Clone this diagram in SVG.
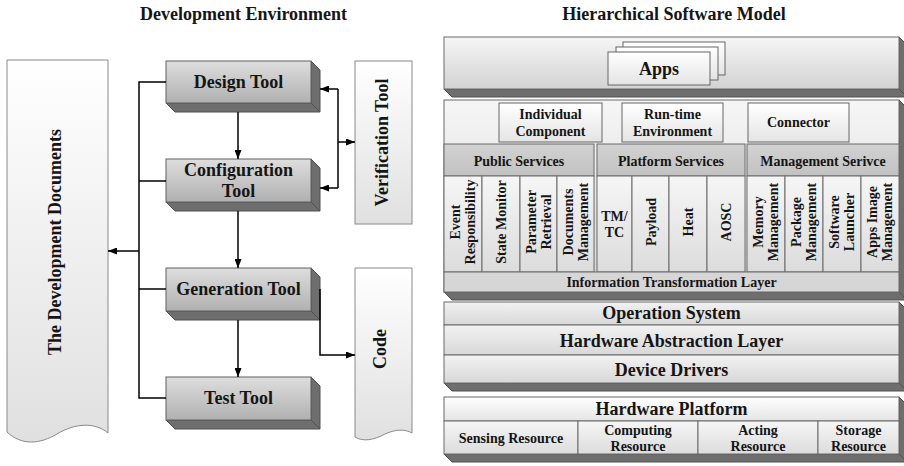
<svg xmlns="http://www.w3.org/2000/svg" width="904" height="466" viewBox="0 0 904 466">
<defs>
<linearGradient id="gTool" x1="0" y1="0" x2="0" y2="1"><stop offset="0" stop-color="#dedede"/><stop offset="1" stop-color="#b0b0b0"/></linearGradient>
<linearGradient id="gDoc" x1="0" y1="0" x2="0" y2="1"><stop offset="0" stop-color="#ffffff"/><stop offset="1" stop-color="#e0e0e0"/></linearGradient>
<linearGradient id="gLayer" x1="0" y1="0" x2="0" y2="1"><stop offset="0" stop-color="#f6f6f6"/><stop offset="1" stop-color="#d2d2d2"/></linearGradient>
<linearGradient id="gRow" x1="0" y1="0" x2="0" y2="1"><stop offset="0" stop-color="#f2f2f2"/><stop offset="1" stop-color="#d8d8d8"/></linearGradient>
<linearGradient id="gCard" x1="0" y1="0" x2="0" y2="1"><stop offset="0" stop-color="#ffffff"/><stop offset="1" stop-color="#e4e4e4"/></linearGradient>
<linearGradient id="gHead" x1="0" y1="0" x2="0" y2="1"><stop offset="0" stop-color="#d2d2d2"/><stop offset="1" stop-color="#c2c2c2"/></linearGradient>
<linearGradient id="gCell" x1="0" y1="0" x2="0" y2="1"><stop offset="0" stop-color="#f6f6f6"/><stop offset="1" stop-color="#dcdcdc"/></linearGradient>
<marker id="arr" viewBox="0 0 9 7" refX="9" refY="3.5" markerWidth="9" markerHeight="7" markerUnits="userSpaceOnUse" orient="auto"><path d="M0,0 L9,3.5 L0,7 z" fill="#000"/></marker>
</defs>
<style>
text{font-family:"Liberation Serif","Times New Roman",serif;font-weight:bold;fill:#151515}
.t18{font-size:18px}
.t14{font-size:14px}
.c{text-anchor:middle}
.face{fill:#6e6e6e;stroke:#505050;stroke-width:1}
.tool{fill:url(#gTool);stroke:#606060;stroke-width:1}
.doc{fill:url(#gDoc);stroke:#8a8a8a;stroke-width:1}
.layer{fill:url(#gLayer);stroke:#6a6a6a;stroke-width:1}
.row{fill:url(#gRow);stroke:#6a6a6a;stroke-width:1}
.card{fill:url(#gCard);stroke:#666;stroke-width:1}
.head{fill:url(#gHead);stroke:#6a6a6a;stroke-width:1}
.cell{fill:url(#gCell);stroke:#6a6a6a;stroke-width:1}
.band{fill:#d6d6d6;stroke:#6a6a6a;stroke-width:1}
.conn{fill:none;stroke:#000;stroke-width:1.5}
.arrow{marker-end:url(#arr)}
</style>
<rect width="904" height="466" fill="#ffffff"/>

<text class="t18 c" x="243.5" y="20">Development Environment</text>
<text class="t18 c" x="674" y="20">Hierarchical Software Model</text>

<!-- Left side nodes -->
<g id="development-documents">
<path class="doc" d="M7,60 H108 V433 C95,422 75,423 57,434 C40,444 22,446 7,432 Z"/>
<text class="t18 c" transform="translate(55,242) rotate(-90)" x="0" y="6">The Development Documents</text>
</g>

<g id="design-tool">
<polygon class="face" points="311,61 320,70 320,112 311,103"/>
<polygon class="face" points="166,103 311,103 320,112 175,112"/>
<rect class="tool" x="166" y="61" width="145" height="42"/>
<text class="t18 c" x="238.5" y="88">Design Tool</text>
</g>

<g id="configuration-tool">
<polygon class="face" points="311,159 320,168 320,211 311,202"/>
<polygon class="face" points="166,202 311,202 320,211 175,211"/>
<rect class="tool" x="166" y="159" width="145" height="43"/>
<text class="t18 c" x="238.5" y="176">Configuration</text>
<text class="t18 c" x="238.5" y="197">Tool</text>
</g>

<g id="generation-tool">
<polygon class="face" points="311,268 320,277 320,320 311,311"/>
<polygon class="face" points="166,311 311,311 320,320 175,320"/>
<rect class="tool" x="166" y="268" width="145" height="43"/>
<text class="t18 c" x="238.5" y="295">Generation Tool</text>
</g>

<g id="test-tool">
<polygon class="face" points="311,377 320,386 320,429 311,420"/>
<polygon class="face" points="166,420 311,420 320,429 175,429"/>
<rect class="tool" x="166" y="377" width="145" height="43"/>
<text class="t18 c" x="238.5" y="404">Test Tool</text>
</g>

<g id="verification-tool">
<rect class="doc" x="355" y="61" width="57" height="163"/>
<text class="t18 c" transform="translate(382,142.5) rotate(-90)" x="0" y="6">Verification Tool</text>
</g>

<g id="code">
<path class="doc" d="M355,268 H412 V433 C405,429 396,429 385,434 C374,440 363,442 355,437 Z"/>
<text class="t18 c" transform="translate(380,349) rotate(-90)" x="0" y="6">Code</text>
</g>

<!-- Connectors -->
<g id="connectors">
<path class="conn" d="M166,82 H139 V398 H166"/>
<path class="conn" d="M139,181 H166"/>
<path class="conn" d="M139,289 H166"/>
<path class="conn arrow" d="M139,251 H108"/>
<path class="conn arrow" d="M238,112 V159"/>
<path class="conn arrow" d="M238,211 V268"/>
<path class="conn arrow" d="M238,320 V377"/>
<path class="conn" d="M338,89 V188"/>
<path class="conn arrow" d="M338,89 H320"/>
<path class="conn arrow" d="M338,188 H320"/>
<path class="conn arrow" d="M338,142 H355"/>
<path class="conn arrow" d="M320,289 V355 H355"/>
</g>

<!-- Right side: hierarchical software model -->
<g id="apps-layer">
<polygon class="face" points="899,37 907,45 907,97 899,89"/>
<polygon class="face" points="444,89 899,89 907,97 452,97"/>
<rect class="layer" x="444" y="37" width="455" height="52"/>
<rect class="card" x="623" y="42" width="102" height="33"/>
<rect class="card" x="616" y="47" width="102" height="33"/>
<rect class="card" x="608" y="52" width="102" height="33"/>
<text class="t18 c" x="659" y="75">Apps</text>
</g>

<g id="middleware-layer">
<polygon class="face" points="899,100 907,108 907,300 899,292"/>
<polygon class="face" points="444,292 899,292 907,300 452,300"/>
<rect class="layer" x="444" y="100" width="455" height="192"/>
<g id="individual-component">
<rect class="card" x="499" y="103" width="103" height="39"/>
<text class="t14 c" x="550.5" y="118.5">Individual</text>
<text class="t14 c" x="550.5" y="135.5">Component</text>
</g>
<g id="runtime-environment">
<rect class="card" x="622" y="103" width="101" height="39"/>
<text class="t14 c" x="672.5" y="118.5">Run-time</text>
<text class="t14 c" x="672.5" y="135.5">Environment</text>
</g>
<g id="connector">
<rect class="card" x="748" y="103" width="101" height="39"/>
<text class="t14 c" x="798.5" y="127">Connector</text>
</g>

<g id="public-services">
<rect class="head" x="444" y="144" width="150" height="32"/>
<text class="t14 c" x="519" y="166">Public Services</text>
<rect class="cell" x="444" y="176" width="38" height="96"/>
<rect class="cell" x="482" y="176" width="38" height="96"/>
<rect class="cell" x="520" y="176" width="37" height="96"/>
<rect class="cell" x="557" y="176" width="37" height="96"/>
<text class="t14 c" transform="translate(463,222) rotate(-90)"><tspan x="0" y="-3">Event</tspan><tspan x="0" y="12">Responsibility</tspan></text>
<text class="t14 c" transform="translate(501,222) rotate(-90)" x="0" y="5">State Monitor</text>
<text class="t14 c" transform="translate(538.5,222) rotate(-90)"><tspan x="0" y="-3">Parameter</tspan><tspan x="0" y="12">Retrieval</tspan></text>
<text class="t14 c" transform="translate(575.5,222) rotate(-90)"><tspan x="0" y="-3">Documents</tspan><tspan x="0" y="12">Management</tspan></text>
</g>

<g id="platform-services">
<rect class="head" x="597" y="144" width="148" height="32"/>
<text class="t14 c" x="671" y="166">Platform Services</text>
<rect class="cell" x="597" y="176" width="35" height="96"/>
<rect class="cell" x="632" y="176" width="37" height="96"/>
<rect class="cell" x="669" y="176" width="38" height="96"/>
<rect class="cell" x="707" y="176" width="38" height="96"/>
<text class="t14 c" x="614.5" y="221">TM/</text>
<text class="t14 c" x="614.5" y="237">TC</text>
<text class="t14 c" transform="translate(650.5,222) rotate(-90)" x="0" y="5">Payload</text>
<text class="t14 c" transform="translate(688,222) rotate(-90)" x="0" y="5">Heat</text>
<text class="t14 c" transform="translate(726,222) rotate(-90)" x="0" y="5">AOSC</text>
</g>

<g id="management-service">
<rect class="head" x="747" y="144" width="152" height="32"/>
<text class="t14 c" x="823" y="166">Management Serivce</text>
<rect class="cell" x="747" y="176" width="38" height="96"/>
<rect class="cell" x="785" y="176" width="38" height="96"/>
<rect class="cell" x="823" y="176" width="38" height="96"/>
<rect class="cell" x="861" y="176" width="38" height="96"/>
<text class="t14 c" transform="translate(766,222) rotate(-90)"><tspan x="0" y="-3">Memory</tspan><tspan x="0" y="12">Management</tspan></text>
<text class="t14 c" transform="translate(804,222) rotate(-90)"><tspan x="0" y="-3">Package</tspan><tspan x="0" y="12">Management</tspan></text>
<text class="t14 c" transform="translate(842,222) rotate(-90)"><tspan x="0" y="-3">Software</tspan><tspan x="0" y="12">Launcher</tspan></text>
<text class="t14 c" transform="translate(880,222) rotate(-90)"><tspan x="0" y="-3">Apps Image</tspan><tspan x="0" y="12">Management</tspan></text>
</g>

<g id="information-transformation-layer">
<rect class="band" x="444" y="272" width="455" height="20"/>
<text class="t14 c" x="671.5" y="287">Information Transformation Layer</text>
</g>
</g>

<g id="system-layer">
<polygon class="face" points="899,302 907,310 907,391 899,383"/>
<polygon class="face" points="444,383 899,383 907,391 452,391"/>
<g id="operation-system">
<rect class="row" x="444" y="302" width="455" height="23"/>
<text class="t18 c" x="671.5" y="319">Operation System</text>
</g>
<g id="hardware-abstraction-layer">
<rect class="row" x="444" y="325" width="455" height="30"/>
<text class="t18 c" x="671.5" y="347">Hardware Abstraction Layer</text>
</g>
<g id="device-drivers">
<rect class="row" x="444" y="355" width="455" height="28"/>
<text class="t18 c" x="671.5" y="376">Device Drivers</text>
</g>
</g>

<g id="hardware-platform">
<polygon class="face" points="899,397 907,405 907,462 899,454"/>
<polygon class="face" points="444,454 899,454 907,462 452,462"/>
<rect class="card" x="444" y="397" width="455" height="24" stroke="#6a6a6a"/>
<text class="t18 c" x="671.5" y="415">Hardware Platform</text>
<rect class="cell" x="444" y="421" width="134" height="33"/>
<rect class="cell" x="578" y="421" width="120" height="33"/>
<rect class="cell" x="698" y="421" width="120" height="33"/>
<rect class="cell" x="818" y="421" width="81" height="33"/>
<text class="t14 c" x="511" y="443">Sensing Resource</text>
<text class="t14 c" x="638" y="435">Computing</text>
<text class="t14 c" x="638" y="451">Resource</text>
<text class="t14 c" x="758" y="435">Acting</text>
<text class="t14 c" x="758" y="451">Resource</text>
<text class="t14 c" x="858.5" y="435">Storage</text>
<text class="t14 c" x="858.5" y="451">Resource</text>
</g>
</svg>
